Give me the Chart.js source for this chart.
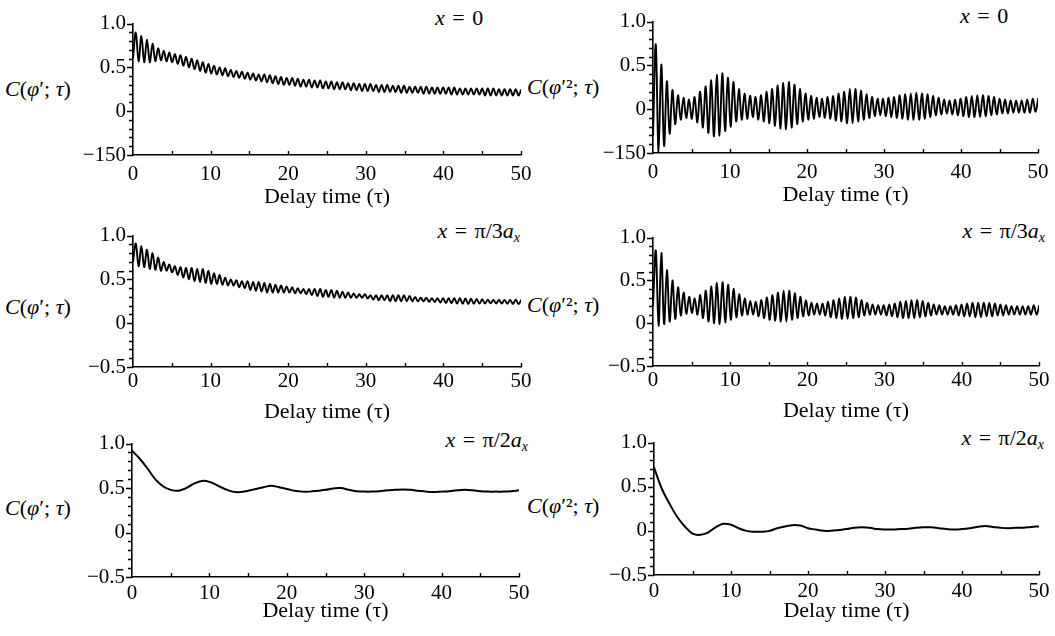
<!DOCTYPE html>
<html>
<head>
<meta charset="utf-8">
<script src="https://cdn.jsdelivr.net/npm/chart.js"></script>
<style>
  body { margin: 0; background: #fff; }
  #page { position: relative; width: 1055px; height: 636px; overflow: hidden;
          font-family: "Liberation Serif", "DejaVu Serif", serif; color: #000; }
  canvas { position: absolute; }
  .ylab { position: absolute; font-size: 22px; line-height: 22px; white-space: nowrap; }
  .case { position: absolute; font-size: 22px; line-height: 22px; white-space: nowrap; word-spacing: 2px; }
  .case sub { font-size: 14px; vertical-align: -4px; line-height: 0; }
</style>
</head>
<body>
<div id="page">
  <div class="ylab" style="left:5px; top:78px"><i>C</i>(<i>φ</i>′; <i>τ</i>)</div>
  <div class="ylab" style="left:527px; top:76px"><i>C</i>(<i>φ</i>′²; <i>τ</i>)</div>
  <div class="ylab" style="left:5px; top:296px"><i>C</i>(<i>φ</i>′; <i>τ</i>)</div>
  <div class="ylab" style="left:527px; top:294px"><i>C</i>(<i>φ</i>′²; <i>τ</i>)</div>
  <div class="ylab" style="left:5px; top:497px"><i>C</i>(<i>φ</i>′; <i>τ</i>)</div>
  <div class="ylab" style="left:527px; top:495px"><i>C</i>(<i>φ</i>′²; <i>τ</i>)</div>

  <div class="case" style="left:435px; top:7px"><i>x</i> = 0</div>
  <div class="case" style="left:960px; top:5px"><i>x</i> = 0</div>
  <div class="case" style="right:535px; top:220px"><i>x</i> = π/3<i>a<sub>x</sub></i></div>
  <div class="case" style="right:10px; top:220px"><i>x</i> = π/3<i>a<sub>x</sub></i></div>
  <div class="case" style="right:527px; top:429px"><i>x</i> = π/2<i>a<sub>x</sub></i></div>
  <div class="case" style="right:11px; top:427px"><i>x</i> = π/2<i>a<sub>x</sub></i></div>
</div>
<script>
// fast oscillation: troughs (lo) and peaks (hi), one pair per period, half a period apart
const HALF_STEP = 0.36;

// x = 0, C(phi'; tau)
const x0PhiHi = [0.90,0.86,0.82,0.77,0.72,0.69,0.67,0.65,0.64,0.62,
  0.60,0.58,0.56,0.54,0.52,0.50,0.49,0.47,0.46,0.45,
  0.44,0.43,0.42,0.42,0.41,0.40,0.39,0.38,0.38,0.37,
  0.36,0.36,0.35,0.35,0.34,0.34,0.33,0.33,0.32,0.32,
  0.31,0.31,0.31,0.30,0.30,0.30,0.29,0.29,0.29,0.28,
  0.28,0.28,0.28,0.27,0.27,0.27,0.27,0.27,0.26,0.26,
  0.26,0.26,0.26,0.26,0.26,0.25,0.25,0.25,0.25,0.25];
const x0PhiLo = [0.60,0.57,0.56,0.56,0.57,0.58,0.57,0.56,0.54,0.52,
  0.50,0.48,0.46,0.44,0.43,0.42,0.41,0.40,0.39,0.38,
  0.37,0.36,0.35,0.34,0.33,0.32,0.31,0.30,0.30,0.29,
  0.28,0.28,0.27,0.27,0.26,0.26,0.25,0.25,0.25,0.24,
  0.24,0.23,0.23,0.23,0.22,0.22,0.22,0.22,0.21,0.21,
  0.21,0.21,0.20,0.20,0.20,0.20,0.20,0.19,0.19,0.19,
  0.19,0.19,0.19,0.18,0.18,0.18,0.18,0.18,0.18,0.18];

// x = 0, C(phi'^2; tau)
const x0SqHi = [0.74,0.51,0.32,0.22,0.16,0.13,0.11,0.14,0.20,0.26,
  0.33,0.39,0.41,0.36,0.31,0.23,0.18,0.155,0.14,0.16,
  0.20,0.23,0.27,0.30,0.31,0.28,0.23,0.18,0.155,0.13,
  0.12,0.14,0.15,0.18,0.20,0.23,0.23,0.21,0.17,0.14,
  0.12,0.12,0.13,0.14,0.16,0.17,0.18,0.19,0.18,0.17,
  0.15,0.13,0.11,0.10,0.11,0.12,0.14,0.15,0.16,0.16,
  0.15,0.14,0.12,0.11,0.10,0.10,0.10,0.11,0.12,0.13];
const x0SqLo = [-0.30,-0.50,-0.42,-0.28,-0.17,-0.12,-0.10,-0.11,-0.15,-0.21,
  -0.27,-0.31,-0.30,-0.25,-0.20,-0.14,-0.12,-0.11,-0.09,-0.12,
  -0.14,-0.16,-0.19,-0.22,-0.23,-0.21,-0.17,-0.14,-0.12,-0.11,
  -0.09,-0.10,-0.11,-0.13,-0.14,-0.16,-0.16,-0.14,-0.12,-0.10,
  -0.08,-0.07,-0.08,-0.09,-0.10,-0.11,-0.12,-0.12,-0.12,-0.11,
  -0.09,-0.07,-0.06,-0.05,-0.06,-0.07,-0.08,-0.09,-0.09,-0.09,
  -0.08,-0.07,-0.06,-0.05,-0.05,-0.04,-0.04,-0.04,-0.04,-0.03];

// x = pi/3a_x, C(phi'; tau)
const x3PhiHi = [0.91,0.88,0.84,0.80,0.75,0.70,0.67,0.65,0.64,0.63,
  0.63,0.62,0.62,0.60,0.57,0.55,0.52,0.50,0.49,0.48,
  0.48,0.47,0.47,0.46,0.45,0.44,0.43,0.42,0.41,0.40,
  0.39,0.39,0.39,0.39,0.38,0.38,0.37,0.36,0.35,0.34,
  0.33,0.33,0.32,0.32,0.32,0.32,0.32,0.32,0.32,0.31,
  0.30,0.29,0.29,0.285,0.285,0.285,0.286,0.286,0.284,0.282,
  0.28,0.277,0.273,0.269,0.266,0.265,0.265,0.266,0.268,0.268];
const x3PhiLo = [0.70,0.65,0.64,0.62,0.61,0.60,0.60,0.58,0.55,0.52,
  0.50,0.48,0.47,0.46,0.45,0.45,0.44,0.43,0.43,0.41,
  0.40,0.38,0.37,0.36,0.35,0.35,0.35,0.35,0.35,0.34,
  0.34,0.33,0.32,0.31,0.30,0.30,0.29,0.29,0.29,0.29,
  0.29,0.29,0.28,0.27,0.26,0.26,0.25,0.25,0.25,0.25,
  0.25,0.25,0.25,0.245,0.241,0.235,0.230,0.226,0.224,0.222,
  0.22,0.221,0.223,0.225,0.226,0.225,0.225,0.222,0.220,0.218];

// x = pi/3a_x, C(phi'^2; tau)
const x3SqHi = [0.85,0.82,0.62,0.50,0.42,0.36,0.31,0.29,0.33,0.38,
  0.43,0.47,0.48,0.45,0.40,0.34,0.29,0.26,0.25,0.27,
  0.30,0.33,0.36,0.38,0.38,0.35,0.31,0.27,0.24,0.23,
  0.23,0.25,0.27,0.29,0.31,0.31,0.30,0.27,0.24,0.22,
  0.21,0.21,0.22,0.23,0.25,0.26,0.27,0.27,0.26,0.24,
  0.22,0.21,0.20,0.20,0.21,0.22,0.23,0.24,0.24,0.24,
  0.24,0.23,0.22,0.21,0.20,0.20,0.20,0.20,0.21,0.21];
const x3SqLo = [0.20,-0.03,-0.01,0.02,0.05,0.09,0.11,0.12,0.10,0.06,
  0.02,0.00,-0.01,0.01,0.04,0.07,0.09,0.10,0.10,0.08,
  0.06,0.04,0.03,0.02,0.02,0.04,0.06,0.08,0.09,0.10,
  0.10,0.09,0.07,0.06,0.05,0.05,0.06,0.07,0.09,0.10,
  0.10,0.10,0.09,0.08,0.07,0.06,0.06,0.06,0.07,0.08,
  0.09,0.10,0.10,0.10,0.10,0.09,0.08,0.08,0.07,0.07,
  0.08,0.08,0.09,0.09,0.10,0.10,0.10,0.10,0.10,0.10];

// x = pi/2a_x, sampled once per unit of tau (0..50)
const x2Phi = [0.92,0.83,0.72,0.60,0.52,0.48,0.47,0.50,0.55,0.58,
  0.57,0.53,0.49,0.46,0.455,0.47,0.49,0.51,0.525,0.51,
  0.49,0.47,0.46,0.46,0.47,0.48,0.495,0.50,0.48,0.465,
  0.46,0.46,0.465,0.475,0.48,0.485,0.48,0.47,0.46,0.455,
  0.46,0.465,0.475,0.48,0.475,0.465,0.46,0.46,0.46,0.465,0.475];
const x2Sq = [0.72,0.48,0.31,0.16,0.05,-0.03,-0.045,-0.02,0.04,0.08,
  0.07,0.03,0.00,-0.01,-0.01,0.00,0.03,0.05,0.065,0.06,
  0.03,0.015,0.00,0.00,0.01,0.02,0.035,0.04,0.035,0.02,
  0.015,0.015,0.02,0.025,0.035,0.04,0.04,0.03,0.02,0.015,
  0.02,0.03,0.045,0.055,0.045,0.035,0.03,0.035,0.035,0.045,0.05];

const xTicks = [0, 10, 20, 30, 40, 50];
const yTicks = [-0.5, 0, 0.5, 1.0];
const yTickLabelsTop = ['−150', '0', '0.5', '1.0'];
const yTickLabels = ['−0.5', '0', '0.5', '1.0'];

function oscPoints(hi, lo) {
  const pts = [];
  for (let k = 0; k < hi.length; k++) {
    pts.push({ x: (2 * k) * HALF_STEP, y: lo[k] });
    pts.push({ x: (2 * k + 1) * HALF_STEP, y: hi[k] });
  }
  return pts;
}
function unitPoints(vals) {
  return vals.map((v, i) => ({ x: i, y: v }));
}

Chart.defaults.font.family = '"Liberation Serif", "DejaVu Serif", serif';
Chart.defaults.color = '#000';

// small tick marks: y every 0.1 (outside), x every 5 (inside)
const minorTicks = {
  id: 'minorTicks',
  afterDraw(chart) {
    const { ctx, chartArea: a, scales: { x, y } } = chart;
    ctx.save();
    ctx.strokeStyle = '#000';
    ctx.lineWidth = 1.4;
    ctx.beginPath();
    for (let i = 0; i <= 15; i++) {
      const py = Math.round(y.getPixelForValue(-0.5 + i * 0.1)) + 0.5;
      const len = i % 5 === 0 ? 6 : 4;
      ctx.moveTo(a.left - len, py);
      ctx.lineTo(a.left, py);
    }
    for (let i = 1; i <= 10; i++) {
      const px = Math.round(x.getPixelForValue(i * 5)) + 0.5;
      ctx.moveTo(px, a.bottom);
      ctx.lineTo(px, a.bottom - 4);
    }
    ctx.stroke();
    ctx.restore();
  }
};

const page = document.getElementById('page');
const PAD_L = 100, PAD_T = 12, PAD_R = 25;

const panels = [
  { pts: oscPoints(x0PhiHi, x0PhiLo), labels: yTickLabelsTop, x0: 133, x50: 521, y1: 16, ym: 155, tickPad: 7, xh: 55, lw: 1.9, tension: 0.35 },
  { pts: oscPoints(x0SqHi, x0SqLo), labels: yTickLabelsTop, x0: 653, x50: 1038, y1: 14, ym: 153, tickPad: 7, xh: 55, lw: 1.9, tension: 0.35 },
  { pts: oscPoints(x3PhiHi, x3PhiLo), labels: yTickLabels, x0: 133, x50: 521, y1: 228, ym: 367, tickPad: 2, xh: 58, lw: 1.9, tension: 0.35 },
  { pts: oscPoints(x3SqHi, x3SqLo), labels: yTickLabels, x0: 653, x50: 1039, y1: 230, ym: 366, tickPad: 2, xh: 58, lw: 1.9, tension: 0.35 },
  { pts: unitPoints(x2Phi), labels: yTickLabels, x0: 132, x50: 519, y1: 436, ym: 577, tickPad: 4, xh: 47, lw: 2, tension: 0.4 },
  { pts: unitPoints(x2Sq), labels: yTickLabels, x0: 654, x50: 1039, y1: 435, ym: 575, tickPad: 4, xh: 49, lw: 2, tension: 0.4 }
];

panels.forEach(p => {
  const cv = document.createElement('canvas');
  cv.width = (p.x50 - p.x0) + PAD_L + PAD_R;
  cv.height = (p.ym - p.y1) + PAD_T + p.xh;
  cv.style.left = (p.x0 - PAD_L) + 'px';
  cv.style.top = (p.y1 - PAD_T) + 'px';
  page.appendChild(cv);

  new Chart(cv, {
    type: 'line',
    data: {
      datasets: [{
        data: p.pts,
        borderColor: '#000',
        borderWidth: p.lw,
        pointRadius: 0,
        tension: p.tension,
        fill: false
      }]
    },
    options: {
      responsive: false,
      animation: false,
      events: [],
      layout: { padding: { top: PAD_T, right: PAD_R, left: 0, bottom: 0 } },
      plugins: { legend: { display: false }, tooltip: { enabled: false } },
      scales: {
        x: {
          type: 'linear', min: 0, max: 50,
          afterFit: s => { s.height = p.xh; },
          afterBuildTicks: s => { s.ticks = xTicks.map(v => ({ value: v })); },
          ticks: { padding: p.tickPad, maxRotation: 0, font: { size: 21 }, color: '#000' },
          grid: { display: false, drawTicks: false },
          border: { display: true, color: '#000', width: 1.6 },
          title: { display: true, text: 'Delay time (τ)', padding: 0, font: { size: 22 }, color: '#000' }
        },
        y: {
          type: 'linear', min: -0.5, max: 1.0,
          afterFit: s => { s.width = PAD_L; },
          afterBuildTicks: s => { s.ticks = yTicks.map(v => ({ value: v })); },
          ticks: {
            padding: 7, font: { size: 21 }, color: '#000',
            callback: v => p.labels[yTicks.findIndex(t => Math.abs(t - v) < 1e-6)]
          },
          grid: { display: false, drawTicks: false },
          border: { display: true, color: '#000', width: 1.6 }
        }
      }
    },
    plugins: [minorTicks]
  });
});
</script>
</body>
</html>
